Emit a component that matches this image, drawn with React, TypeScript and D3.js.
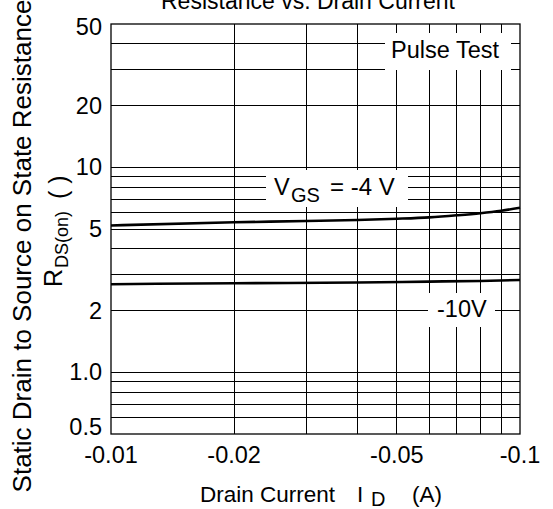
import * as d3 from 'd3';

// drain current magnitude (A); axis shows them as negative values
const xTicks = [0.01, 0.02, 0.05, 0.1];
const xTickLabels = ['-0.01', '-0.02', '-0.05', '-0.1'];
const xGrid = [0.02, 0.03, 0.04, 0.05, 0.06, 0.07, 0.08, 0.09];

const yTicks = [0.5, 1, 2, 5, 10, 20, 50];
const yTickLabels = ['0.5', '1.0', '2', '5', '10', '20', '50'];
const yGrid = [0.6, 0.7, 0.8, 0.9, 1, 2, 3, 4, 5, 6, 7, 8, 9, 10, 20, 30, 40];

// R_DS(on) curves
const vgs4Current = [0.01, 0.02, 0.03, 0.04, 0.05, 0.06, 0.07, 0.08, 0.09, 0.1];
const vgs4Rds = [5.2, 5.39, 5.47, 5.53, 5.61, 5.7, 5.83, 5.97, 6.14, 6.35];
const vgs10Current = [0.01, 0.02, 0.04, 0.06, 0.08, 0.1];
const vgs10Rds = [2.69, 2.72, 2.74, 2.77, 2.79, 2.82];

const W = 553;
const H = 509;
const left = 111;
const right = 520;
const top = 24;
const bottom = 434;
const FONT = '"Liberation Sans", Arial, Helvetica, sans-serif';

export default function App() {
  const x = d3.scaleLog().domain([0.01, 0.1]).range([left, right]);
  const y = d3.scaleLog().domain([0.5, 50]).range([bottom, top]);

  const line = d3
    .line<[number, number]>()
    .x((d) => x(d[0]))
    .y((d) => y(d[1]))
    .curve(d3.curveMonotoneX);

  const curve4 = line(vgs4Current.map((c, i) => [c, vgs4Rds[i]]) as [number, number][]) || '';
  const curve10 = line(vgs10Current.map((c, i) => [c, vgs10Rds[i]]) as [number, number][]) || '';

  return (
    <svg
      width={W}
      height={H}
      style={{ position: 'absolute', left: 0, top: 0, background: '#fff' }}
      fontFamily={FONT}
    >
      {/* grid */}
      <g stroke="#000" strokeWidth={1} shapeRendering="crispEdges">
        {yGrid.map((v) => (
          <line key={'y' + v} x1={left} x2={right} y1={y(v)} y2={y(v)} />
        ))}
        {xGrid.map((v) => (
          <line key={'x' + v} x1={x(v)} x2={x(v)} y1={top} y2={bottom} />
        ))}
      </g>

      {/* label backgrounds */}
      <rect x={385} y={33} width={126} height={37} fill="#fff" />
      <rect x={266} y={170} width={142} height={37} fill="#fff" />
      <rect x={428} y={293} width={67} height={34} fill="#fff" />

      <rect
        x={left}
        y={top}
        width={right - left}
        height={bottom - top}
        fill="none"
        stroke="#000"
        strokeWidth={1.3}
      />

      {/* curves */}
      <path d={curve4} fill="none" stroke="#000" strokeWidth={2.6} />
      <path d={curve10} fill="none" stroke="#000" strokeWidth={2.6} />

      {/* tick labels */}
      <g fontSize={23.5} fill="#000">
        {yTicks.map((v, i) => (
          <text
            key={'yt' + v}
            x={102}
            y={Math.min(Math.max(y(v) + 8, 35), 435)}
            textAnchor="end"
          >
            {yTickLabels[i]}
          </text>
        ))}
        {xTicks.map((v, i) => (
          <text key={'xt' + v} x={x(v)} y={463} textAnchor="middle">
            {xTickLabels[i]}
          </text>
        ))}
      </g>

      {/* title (cut off at top, as in the source) */}
      <text x={308} y={9} fontSize={23} textAnchor="middle">
        Resistance vs. Drain Current
      </text>

      {/* in-plot labels */}
      <text x={391} y={58} fontSize={23.5}>
        Pulse Test
      </text>
      <text x={274} y={195} fontSize={23.5}>
        V
      </text>
      <text x={291} y={202} fontSize={20}>
        GS
      </text>
      <text x={330} y={195} fontSize={24}>
        = -4 V
      </text>
      <text x={437} y={317} fontSize={23.5}>
        -10V
      </text>

      {/* x axis title */}
      <text x={200} y={502} fontSize={22.5}>
        Drain Current
      </text>
      <text x={357} y={502} fontSize={22.5}>
        I
      </text>
      <text x={371} y={506} fontSize={20}>
        D
      </text>
      <text x={412} y={502} fontSize={22.5}>
        (A)
      </text>

      {/* y axis title */}
      <text
        transform="translate(30.5,246) rotate(-90)"
        fontSize={26}
        textAnchor="middle"
      >
        Static Drain to Source on State Resistance
      </text>
      <text transform="translate(62,287) rotate(-90)" fontSize={25}>
        R
      </text>
      <text transform="translate(68,268) rotate(-90)" fontSize={18}>
        DS(on)
      </text>
      <text transform="translate(67,199) rotate(-90)" fontSize={25}>
        ( )
      </text>
    </svg>
  );
}
